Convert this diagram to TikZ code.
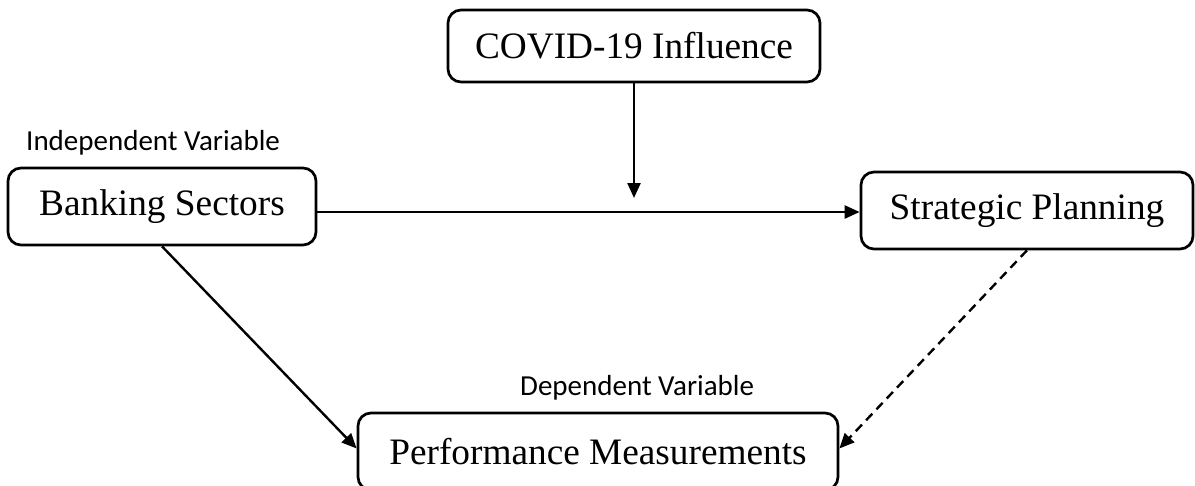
\documentclass[tikz,border=0pt]{standalone}
\usepackage{fontspec}
\setmainfont{Liberation Serif}
\newfontfamily\labelfont{Carlito}
\usetikzlibrary{arrows.meta}
\tikzset{
  varbox/.style={draw=black, line width=2.7pt, rounded corners=13pt, fill=white,
    inner sep=0pt, font=\fontsize{37.3}{41}\selectfont},
  arr/.style={line width=2.4pt, -{Triangle[length=15pt,width=13pt]}},
  darr/.style={arr, dash pattern=on 9pt off 6pt},
  tag/.style={font=\labelfont\fontsize{29}{33}\selectfont, inner sep=0pt, anchor=base west}
}
\begin{document}
\begin{tikzpicture}[x=1pt,y=-1pt]
\useasboundingbox (0,0) rectangle (1195,485);
\clip (0,0) rectangle (1195,485);

% variable boxes
\node[varbox, minimum width=372pt, minimum height=72pt] (covid) at (634,46) {COVID-19 Influence};
\node[varbox, minimum width=308pt, minimum height=77pt] (bank) at (162,206.5) {Banking Sectors};
\node[varbox, minimum width=332pt, minimum height=77pt] (strat) at (1027,210.5) {Strategic Planning};
\node[varbox, minimum width=480pt, minimum height=77pt] (perf) at (598,451.5) {Performance Measurements};

% role labels
\node[tag] (indep) at (26,150) {Independent Variable};
\node[tag] (dep) at (520,395) {Dependent Variable};

% moderating influence arrow
\coordinate (mod) at (634,198);
\draw[arr] (covid.south) -- (mod);

% direct links
\draw[arr] ([yshift=-5.5pt]bank.east) -- ([yshift=-5.5pt]bank.east -| strat.west);
\draw[arr] (bank.south) -- ([yshift=3pt]perf.west);
\draw[darr] (strat.south) -- ([yshift=3pt]perf.east);
\end{tikzpicture}
\end{document}
